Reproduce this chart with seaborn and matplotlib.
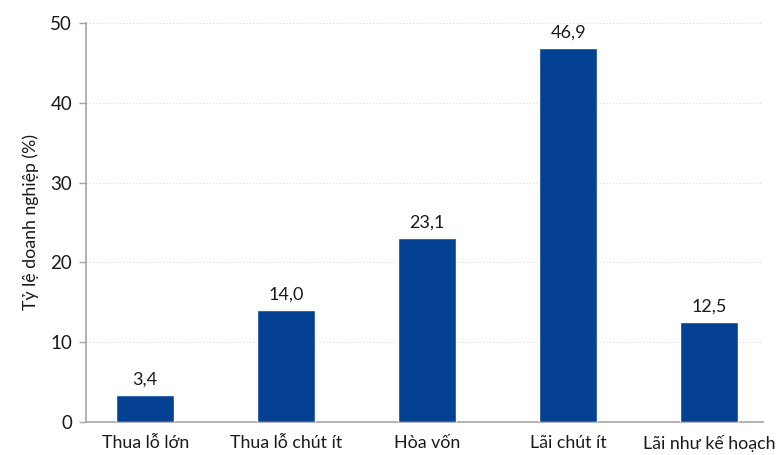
import matplotlib
matplotlib.use("Agg")
import matplotlib.pyplot as plt
import seaborn as sns
import pandas as pd

categories = ["Thua lỗ lớn", "Thua lỗ chút ít", "Hòa vốn", "Lãi chút ít", "Lãi như kế hoạch"]
shares = [3.4, 14.0, 23.1, 46.9, 12.5]
y_ticks = [0, 10, 20, 30, 40, 50]
y_label = "Tỷ lệ doanh nghiệp (%)"

sns.set_theme(style="white")
plt.rcParams["font.family"] = ["Lato", "DejaVu Sans"]

df = pd.DataFrame({"category": categories, "share": shares})

fig = plt.figure(figsize=(7.83, 4.55), dpi=100)
ax = fig.add_axes([86 / 783, 1 - 422 / 455, (763 - 86) / 783, (422 - 23) / 455])

sns.barplot(data=df, x="category", y="share", color="#044192", saturation=1,
            width=0.41, ax=ax, zorder=3)

for i, v in enumerate(shares):
    ax.text(i, v + 0.9, f"{v:.1f}".replace(".", ","), ha="center", va="bottom",
            fontsize=13, color="#1a1a1a")

ax.set_ylim(0, 50)
ax.set_xlim(-0.42, 4.38)
ax.set_yticks(y_ticks)
ax.set_yticklabels([str(t) for t in y_ticks], fontsize=13.5, color="#1a1a1a")
ax.tick_params(axis="x", labelsize=12.8, colors="#1a1a1a", length=0, pad=9)
ax.tick_params(axis="y", length=5, width=1, color="#a6a6a6", pad=5, left=True)
ax.set_xlabel("")
ax.set_ylabel(y_label, fontsize=12.8, color="#1a1a1a", labelpad=8)

ax.yaxis.grid(True, linestyle=(0, (1, 2)), color="#dadada", linewidth=0.8, zorder=0)
ax.set_axisbelow(True)

for side in ["top", "right"]:
    ax.spines[side].set_visible(False)
for side in ["left", "bottom"]:
    ax.spines[side].set_color("#a6a6a6")
    ax.spines[side].set_linewidth(1.2)

fig.savefig("out.png", dpi=100)
